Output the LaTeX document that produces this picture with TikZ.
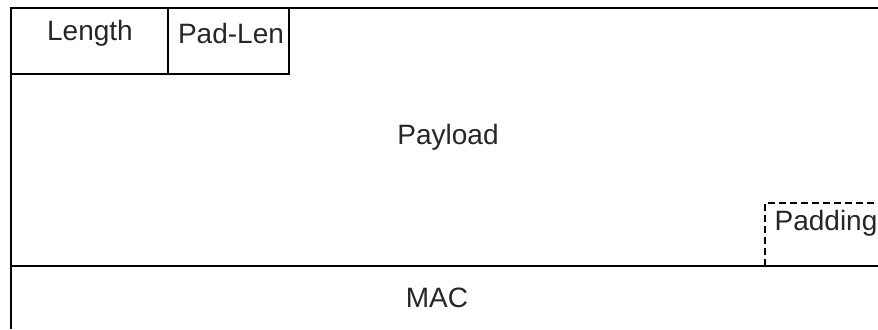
\documentclass[tikz,border=0pt]{standalone}
\usepackage{fontspec}
\setmainfont{Liberation Sans}
\usepackage{tikz}
\usetikzlibrary{positioning}

\begin{document}
\begin{tikzpicture}[x=0.5pt,y=-0.5pt,
  font=\fontsize{14}{16}\selectfont,
  rule/.style={line width=1.1pt},
  padbox/.style={line width=1.2pt,dash pattern=on 3.5pt off 2pt},
  fieldname/.style={inner sep=0pt, text=black!85},
]
  \useasboundingbox (0,0) rectangle (878,329);

  % outer frame (open on the right and at the bottom)
  \draw[rule] (11,329) -- (11,8) -- (878,8);
  \draw[rule] (11,266) -- (878,266);

  % header fields
  \draw[rule] (11,8) rectangle (168,74);
  \draw[rule] (168,8) rectangle (289,74);
  \node[fieldname] (len)    at (90,33)  {Length};
  \node[fieldname] (padlen) at (231,33) {Pad-Len};

  % payload and padding
  \node[fieldname] (payload) at (448,137) {Payload};
  \draw[padbox] (765,266) -- (765,203) -- (878,203);
  \node[fieldname] (padding) at (826,223) {Padding};

  % trailer
  \node[fieldname] (mac) at (437,298) {MAC};
\end{tikzpicture}
\end{document}
